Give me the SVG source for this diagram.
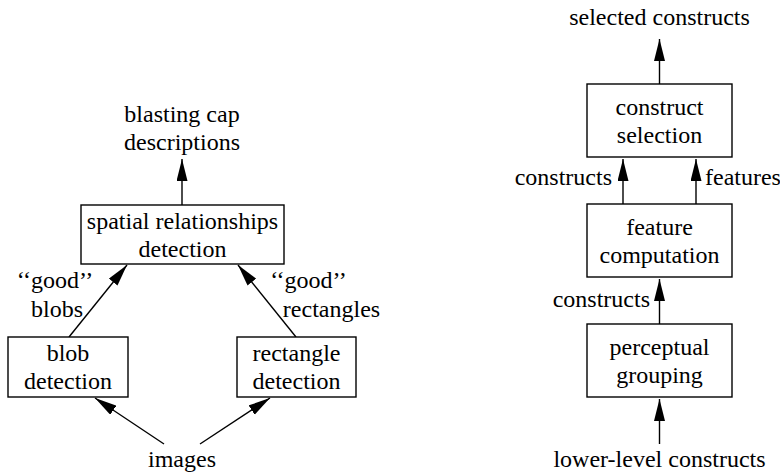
<svg xmlns="http://www.w3.org/2000/svg" width="780" height="472" viewBox="0 0 780 472">
<style>
text{font-size:24px;fill:#000;text-anchor:middle}
.box{fill:#fff;stroke:#000;stroke-width:1.4}
.edge{stroke:#000;stroke-width:1.4;fill:none;marker-end:url(#ah)}
.s{text-anchor:start}.e{text-anchor:end}
</style>
<defs>
<marker id="ah" markerUnits="userSpaceOnUse" markerWidth="23" markerHeight="12" refX="22" refY="5.5" orient="auto">
<path d="M0,0 L22,5.5 L0,11 z" fill="#000"/>
</marker>
</defs>
<rect width="780" height="472" fill="#fff"/>
<g id="connectors">
<line class="edge" x1="182" y1="205" x2="182" y2="159"/>
<line class="edge" x1="69" y1="337" x2="127" y2="265"/>
<line class="edge" x1="296" y1="337" x2="238" y2="265"/>
<line class="edge" x1="164" y1="444" x2="95" y2="398"/>
<line class="edge" x1="200" y1="444" x2="270" y2="398"/>
<line class="edge" x1="659.5" y1="84" x2="659.5" y2="39"/>
<line class="edge" x1="623" y1="204" x2="623" y2="159"/>
<line class="edge" x1="696" y1="204" x2="696" y2="159"/>
<line class="edge" x1="659.5" y1="324" x2="659.5" y2="279"/>
<line class="edge" x1="659.5" y1="444" x2="659.5" y2="399"/>
</g>
<g font-family="'Liberation Serif', 'DejaVu Serif', serif">
<g id="labels">
<text x="182" y="122">blasting cap</text>
<text x="182" y="150">descriptions</text>
<text x="55" y="288">‘‘good’’</text>
<text x="57" y="317">blobs</text>
<text x="308.5" y="288">‘‘good’’</text>
<text x="331.5" y="317">rectangles</text>
<text x="182" y="467">images</text>
<text x="659.5" y="25">selected constructs</text>
<text class="e" x="612" y="185">constructs</text>
<text class="s" x="705" y="185">features</text>
<text class="e" x="650" y="307">constructs</text>
<text x="659.5" y="467">lower-level constructs</text>
</g>
<g id="spatial">
<rect class="box" x="81" y="205" width="203" height="59"/>
<text x="182.5" y="229">spatial relationships</text>
<text x="182.5" y="257">detection</text>
</g>
<g id="blob">
<rect class="box" x="8" y="337" width="120" height="60"/>
<text x="68" y="361">blob</text>
<text x="68" y="389">detection</text>
</g>
<g id="rectangle">
<rect class="box" x="237" y="337" width="119" height="60"/>
<text x="296.5" y="361">rectangle</text>
<text x="296.5" y="389">detection</text>
</g>
<g id="construct">
<rect class="box" x="587" y="84" width="145" height="73"/>
<text x="659.5" y="115">construct</text>
<text x="659.5" y="143">selection</text>
</g>
<g id="feature">
<rect class="box" x="587" y="204" width="145" height="73"/>
<text x="659.5" y="235">feature</text>
<text x="659.5" y="263">computation</text>
</g>
<g id="perceptual">
<rect class="box" x="587" y="324" width="145" height="73"/>
<text x="659.5" y="355">perceptual</text>
<text x="659.5" y="383">grouping</text>
</g>
</g>
</svg>
